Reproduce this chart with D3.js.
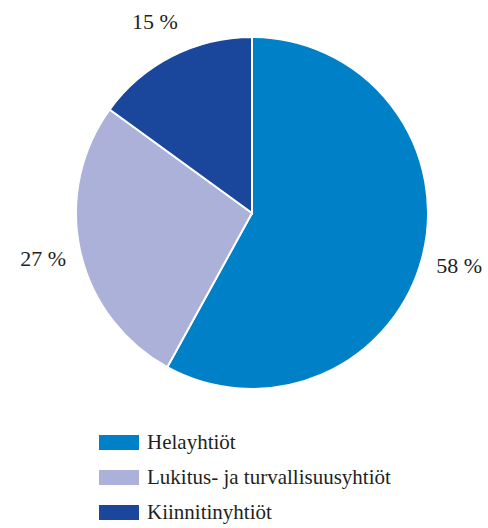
<!DOCTYPE html>
<html lang="fi">
<head>
<meta charset="UTF-8">
<title>Pie</title>
<style>
  body { margin: 0; background: #fff; }
  text { font-family: "Liberation Serif", "DejaVu Serif", serif; fill: #231f20; }
</style>
</head>
<body>
<svg class="chart"></svg>
<script src="https://cdnjs.cloudflare.com/ajax/libs/d3/7.8.5/d3.min.js"></script>
<script>
const categories = ['Helayhtiöt', 'Lukitus- ja turvallisuusyhtiöt', 'Kiinnitinyhtiöt'];
const values = [58, 27, 15];
const labels = ['58 %', '27 %', '15 %'];
const colors = ['#0080c6', '#abb1d8', '#1a469c'];

const width = 488, height = 528;
const cx = 252, cy = 213, radius = 176;

const svg = d3.select('.chart').attr('width', width).attr('height', height);

const data = categories.map((c, i) => ({ name: c, value: values[i], label: labels[i], color: colors[i] }));

const pie = d3.pie().value(d => d.value).sort(null);
const arc = d3.arc().innerRadius(0).outerRadius(radius);
const labelArc = d3.arc().innerRadius(214).outerRadius(214);

const g = svg.append('g').attr('transform', `translate(${cx}, ${cy})`);
const arcs = pie(data);

g.selectAll('path')
  .data(arcs)
  .enter().append('path')
  .attr('d', arc)
  .attr('fill', d => d.data.color)
  .attr('stroke', '#fff')
  .attr('stroke-width', 2);

g.selectAll('text.lbl')
  .data(arcs)
  .enter().append('text')
  .attr('class', 'lbl')
  .attr('transform', d => `translate(${labelArc.centroid(d)})`)
  .attr('text-anchor', 'middle')
  .attr('dy', '0.3em')
  .style('font-size', '22px')
  .text(d => d.data.label);

// legend
const legend = svg.append('g').attr('transform', 'translate(99, 435)');
const item = legend.selectAll('g')
  .data(data)
  .enter().append('g')
  .attr('transform', (d, i) => `translate(0, ${i * 35})`);

item.append('rect')
  .attr('width', 40)
  .attr('height', 15)
  .attr('fill', d => d.color);

item.append('text')
  .attr('x', 48)
  .attr('y', 13.5)
  .style('font-size', '21px')
  .text(d => d.name);
</script>
</body>
</html>
